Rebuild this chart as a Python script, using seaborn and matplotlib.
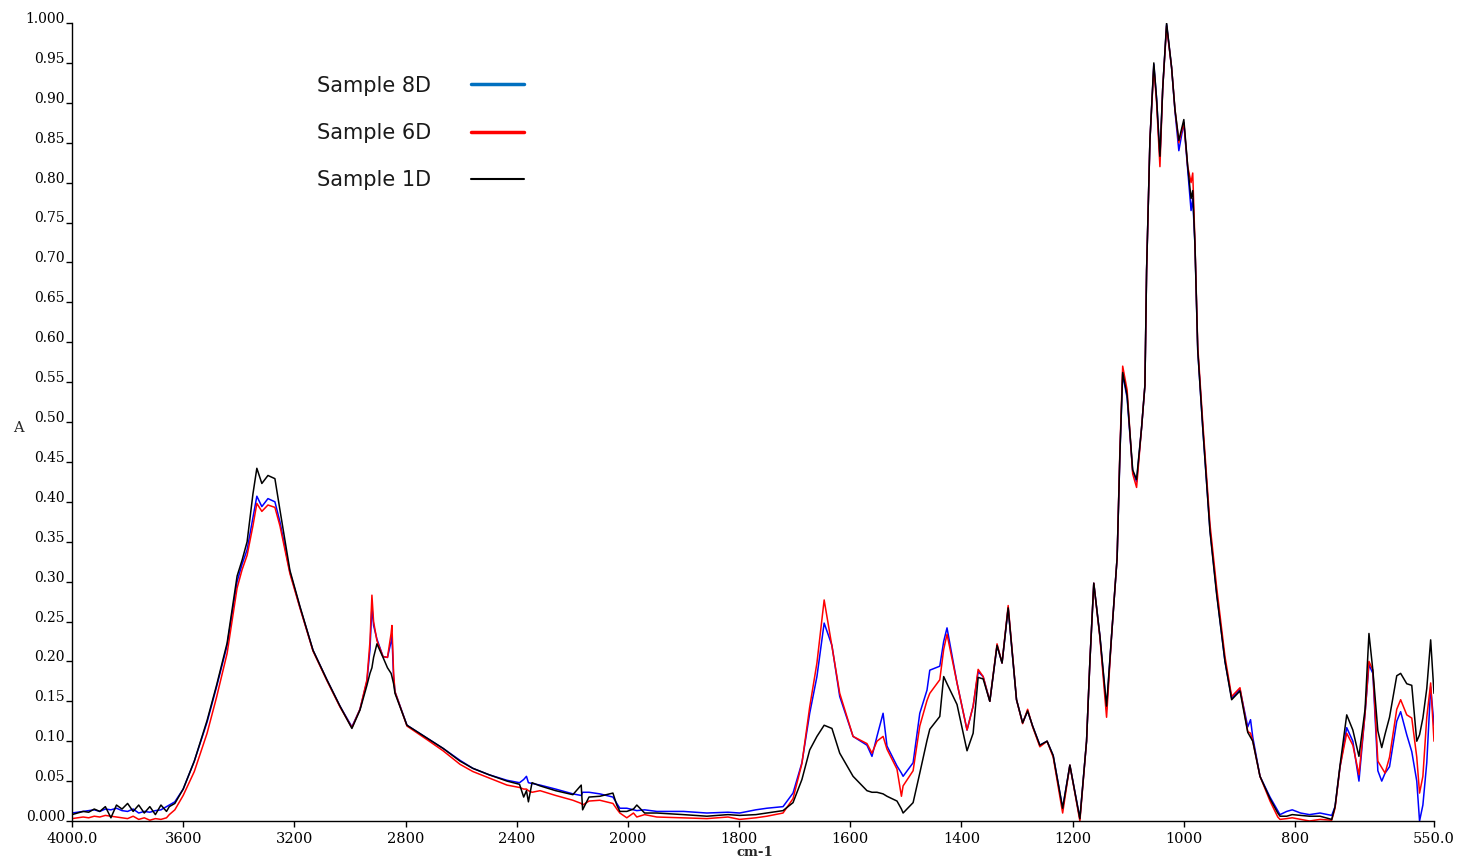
import numpy as np
import pandas as pd
import matplotlib
matplotlib.use("Agg")
import matplotlib.pyplot as plt
from matplotlib.lines import Line2D
import seaborn as sns

# ---------------- data ----------------
wavenumber = [
    4000, 3980, 3960, 3940, 3920, 3900, 3880, 3860, 3840, 3820, 3800, 3780, 3760, 3740, 3720, 3700, 3680, 3660, 3650,
    3630, 3600, 3560, 3514, 3480, 3442, 3406, 3388, 3370, 3349, 3335, 3317, 3295, 3270, 3252, 3216, 3180, 3133, 3083,
    3036, 2993, 2964, 2939, 2928, 2921, 2915, 2903, 2881, 2865, 2852, 2849, 2843, 2838, 2795, 2723, 2665, 2604, 2558,
    2500, 2435, 2390, 2375, 2365, 2358, 2345, 2316, 2260, 2198, 2168, 2163, 2140, 2101, 2054, 2040, 2029, 2004, 1990,
    1984, 1970, 1948, 1900, 1858, 1820, 1799, 1770, 1750, 1721, 1703, 1687, 1673, 1660, 1647, 1633, 1619, 1595, 1570,
    1561, 1552, 1541, 1534, 1516, 1508, 1505, 1487, 1475, 1462, 1457, 1439, 1432, 1426, 1408, 1390, 1379, 1370, 1361,
    1349, 1336, 1327, 1316, 1301, 1290, 1281, 1272, 1259, 1246, 1235, 1218, 1205, 1187, 1175, 1169, 1162, 1151, 1139,
    1130, 1120, 1115, 1110, 1102, 1092, 1085, 1076, 1070, 1067, 1061, 1054, 1049, 1043, 1038, 1031, 1022, 1016, 1009,
    1000, 993, 987, 984, 980, 975, 966, 953, 941, 926, 914, 899, 885, 880, 876, 863, 845, 831, 827, 815, 805, 790, 774,
    755, 734, 728, 719, 707, 696, 685, 674, 667, 660, 651, 644, 638, 630, 617, 610, 599, 590, 581, 576, 570, 563, 556, 550,
]

sample_8d = [
    0.010, 0.011, 0.012, 0.013, 0.014, 0.012, 0.015, 0.014, 0.016, 0.013, 0.012, 0.015, 0.010, 0.012, 0.011, 0.013, 0.014, 0.018, 0.020,
    0.024, 0.040, 0.075, 0.124, 0.168, 0.220, 0.300, 0.322, 0.340, 0.380, 0.407, 0.394, 0.404, 0.400, 0.375, 0.312, 0.268, 0.214, 0.177,
    0.144, 0.118, 0.140, 0.175, 0.215, 0.269, 0.245, 0.228, 0.206, 0.205, 0.225, 0.232, 0.180, 0.162, 0.120, 0.104, 0.091, 0.076, 0.066,
    0.058, 0.051, 0.048, 0.052, 0.056, 0.048, 0.047, 0.045, 0.040, 0.034, 0.032, 0.036, 0.036, 0.034, 0.030, 0.022, 0.016, 0.016, 0.014,
    0.013, 0.014, 0.012, 0.012, 0.010, 0.011, 0.010, 0.014, 0.016, 0.018, 0.035, 0.073, 0.135, 0.181, 0.248, 0.220, 0.156, 0.106, 0.095,
    0.081, 0.106, 0.135, 0.094, 0.069, 0.060, 0.056, 0.073, 0.135, 0.164, 0.189, 0.194, 0.225, 0.242, 0.173, 0.114, 0.144, 0.187, 0.181,
    0.150, 0.220, 0.198, 0.267, 0.152, 0.123, 0.138, 0.119, 0.095, 0.100, 0.082, 0.016, 0.070, 0.003, 0.100, 0.200, 0.298, 0.232, 0.140,
    0.232, 0.330, 0.460, 0.560, 0.530, 0.438, 0.425, 0.493, 0.546, 0.690, 0.853, 0.948, 0.905, 0.830, 0.918, 0.998, 0.944, 0.890, 0.840,
    0.875, 0.815, 0.765, 0.780, 0.722, 0.590, 0.493, 0.365, 0.286, 0.200, 0.154, 0.165, 0.118, 0.127, 0.105, 0.056, 0.030, 0.013, 0.008, 0.012, 0.014, 0.010, 0.008,
    0.010, 0.007, 0.018, 0.068, 0.117, 0.100, 0.050, 0.135, 0.196, 0.185, 0.063, 0.050, 0.060, 0.068, 0.125, 0.137, 0.108, 0.087, 0.050, 0.000, 0.020, 0.073, 0.168, 0.120,
]

sample_6d = [
    0.003, 0.004, 0.005, 0.004, 0.006, 0.005, 0.007, 0.006, 0.005, 0.004, 0.003, 0.006, 0.002, 0.004, 0.001, 0.003, 0.002, 0.004, 0.008,
    0.014, 0.032, 0.062, 0.110, 0.155, 0.210, 0.292, 0.315, 0.333, 0.370, 0.398, 0.388, 0.396, 0.393, 0.370, 0.310, 0.267, 0.213, 0.176,
    0.143, 0.117, 0.140, 0.177, 0.225, 0.283, 0.250, 0.226, 0.206, 0.205, 0.235, 0.245, 0.185, 0.162, 0.119, 0.102, 0.088, 0.071, 0.062,
    0.054, 0.045, 0.042, 0.040, 0.040, 0.038, 0.036, 0.038, 0.032, 0.026, 0.022, 0.020, 0.025, 0.026, 0.022, 0.015, 0.010, 0.004, 0.010,
    0.005, 0.008, 0.005, 0.004, 0.003, 0.005, 0.002, 0.004, 0.006, 0.010, 0.028, 0.072, 0.143, 0.198, 0.277, 0.219, 0.160, 0.106, 0.097,
    0.085, 0.100, 0.106, 0.090, 0.065, 0.031, 0.044, 0.063, 0.119, 0.151, 0.160, 0.177, 0.215, 0.234, 0.173, 0.114, 0.144, 0.190, 0.181,
    0.150, 0.222, 0.198, 0.270, 0.152, 0.122, 0.140, 0.118, 0.093, 0.100, 0.080, 0.010, 0.070, 0.000, 0.100, 0.200, 0.298, 0.230, 0.130,
    0.232, 0.330, 0.465, 0.570, 0.540, 0.435, 0.418, 0.493, 0.546, 0.690, 0.853, 0.945, 0.900, 0.820, 0.918, 0.996, 0.944, 0.892, 0.850,
    0.875, 0.820, 0.800, 0.812, 0.725, 0.595, 0.500, 0.372, 0.293, 0.206, 0.156, 0.167, 0.112, 0.110, 0.100, 0.056, 0.025, 0.005, 0.002, 0.003, 0.004, 0.002, 0.000,
    0.002, 0.001, 0.016, 0.068, 0.110, 0.095, 0.058, 0.135, 0.200, 0.189, 0.075, 0.067, 0.060, 0.080, 0.140, 0.152, 0.133, 0.129, 0.080, 0.035, 0.056, 0.130, 0.173, 0.100,
]

sample_1d = [
    0.008, 0.010, 0.012, 0.011, 0.015, 0.012, 0.018, 0.004, 0.020, 0.015, 0.022, 0.012, 0.020, 0.010, 0.018, 0.008, 0.020, 0.012, 0.018,
    0.022, 0.040, 0.075, 0.126, 0.170, 0.223, 0.307, 0.327, 0.350, 0.410, 0.442, 0.423, 0.433, 0.429, 0.390, 0.314, 0.269, 0.214, 0.177,
    0.144, 0.116, 0.139, 0.170, 0.185, 0.192, 0.205, 0.222, 0.205, 0.192, 0.185, 0.181, 0.172, 0.160, 0.120, 0.104, 0.091, 0.075, 0.066,
    0.058, 0.050, 0.046, 0.030, 0.038, 0.024, 0.048, 0.044, 0.038, 0.033, 0.045, 0.014, 0.030, 0.031, 0.035, 0.020, 0.012, 0.012, 0.015,
    0.020, 0.010, 0.010, 0.008, 0.006, 0.008, 0.007, 0.008, 0.010, 0.013, 0.023, 0.052, 0.089, 0.106, 0.120, 0.116, 0.085, 0.056, 0.038,
    0.036, 0.036, 0.034, 0.031, 0.025, 0.015, 0.010, 0.023, 0.060, 0.101, 0.115, 0.131, 0.181, 0.172, 0.146, 0.088, 0.110, 0.180, 0.178,
    0.150, 0.220, 0.198, 0.267, 0.152, 0.123, 0.138, 0.119, 0.095, 0.100, 0.082, 0.016, 0.070, 0.003, 0.100, 0.200, 0.298, 0.232, 0.144,
    0.232, 0.330, 0.460, 0.562, 0.533, 0.440, 0.428, 0.493, 0.546, 0.690, 0.853, 0.950, 0.905, 0.833, 0.918, 1.000, 0.944, 0.892, 0.853,
    0.879, 0.820, 0.780, 0.790, 0.722, 0.590, 0.493, 0.363, 0.284, 0.200, 0.152, 0.163, 0.111, 0.105, 0.100, 0.056, 0.028, 0.010, 0.006, 0.006, 0.008, 0.007, 0.006,
    0.006, 0.002, 0.018, 0.070, 0.133, 0.114, 0.081, 0.140, 0.235, 0.189, 0.113, 0.092, 0.109, 0.130, 0.182, 0.185, 0.172, 0.170, 0.100, 0.108, 0.129, 0.166, 0.227, 0.160,
]

sample_names = ["Sample 8D", "Sample 6D", "Sample 1D"]
line_colors = ["#0000FF", "#FF0000", "#000000"]
legend_colors = ["#0070C0", "#FF0000", "#000000"]

x_ticks = [4000, 3600, 3200, 2800, 2400, 2000, 1800, 1600, 1400, 1200, 1000, 800, 550]
x_tick_labels = ["4000.0", "3600", "3200", "2800", "2400", "2000", "1800", "1600", "1400",
                 "1200", "1000", "800", "550.0"]
y_ticks = [round(0.05 * i, 2) for i in range(21)]
y_tick_labels = ["0.000"] + [f"{v:.2f}" for v in y_ticks[1:-1]] + ["1.000"]

# ---------------- figure ----------------
sns.set_theme(style="ticks")
plt.rcParams["font.family"] = ["DejaVu Serif"]

df = pd.DataFrame({
    "wn": wavenumber * 3,
    "A": sample_8d + sample_6d + sample_1d,
    "sample": sum([[n] * len(wavenumber) for n in sample_names], []),
})

fig = plt.figure(figsize=(14.58, 8.61), dpi=100)
ax = fig.add_axes([72 / 1458, 40 / 861, (1434 - 72) / 1458, (821 - 23) / 861])

sns.lineplot(data=df, x="wn", y="A", hue="sample", hue_order=sample_names,
             palette=dict(zip(sample_names, line_colors)), sort=False,
             estimator=None, legend=False, linewidth=1.1, ax=ax)


# FTIR style axis: the region below 2000 cm-1 is expanded two-fold
def fwd(x):
    x = np.asarray(x, dtype=float)
    return np.where(x >= 2000, (x - 2000) / 2.0, x - 2000)


def inv(u):
    u = np.asarray(u, dtype=float)
    return np.where(u >= 0, 2000 + 2.0 * u, 2000 + u)


ax.set_xscale("function", functions=(fwd, inv))
ax.set_xlim(4000, 550)
ax.set_ylim(0, 1.0)

ax.set_xticks(x_ticks)
ax.set_xticklabels(x_tick_labels, fontsize=10.5)
ax.xaxis.set_minor_locator(matplotlib.ticker.NullLocator())
ax.set_yticks(y_ticks)
ax.set_yticklabels(y_tick_labels, fontsize=10)
for lab in ax.get_yticklabels():
    lab.set_va("baseline")
ax.tick_params(axis="both", direction="out", length=4, width=1, color="black", labelcolor="black")
ax.tick_params(axis="y", pad=1)
ax.tick_params(axis="x", pad=4)

sns.despine(ax=ax)
for s in ("left", "bottom"):
    ax.spines[s].set_color("black")
    ax.spines[s].set_linewidth(1.0)

ax.set_xlabel("")
ax.set_ylabel("")
fig.text(755 / 1458, 1 - 853 / 861, "cm-1", ha="center", va="center", fontsize=9.5, fontweight="bold")
fig.text(18 / 1458, 1 - 428 / 861, "A", ha="center", va="center", fontsize=10.5)

handles = [Line2D([], [], color=legend_colors[0], lw=2.5),
           Line2D([], [], color=legend_colors[1], lw=2.5),
           Line2D([], [], color=legend_colors[2], lw=1.5)]
leg = ax.legend(handles, sample_names, loc="upper left", bbox_to_anchor=(298 / 1458, 1 - 57 / 861),
                bbox_transform=fig.transFigure, frameon=False, markerfirst=False,
                handlelength=2.55, handletextpad=1.9, labelspacing=1.3,
                prop={"family": "DejaVu Sans", "size": 15})
for t in leg.get_texts():
    t.set_color("#1a1a1a")

fig.savefig("out.png", dpi=100, facecolor="white")
